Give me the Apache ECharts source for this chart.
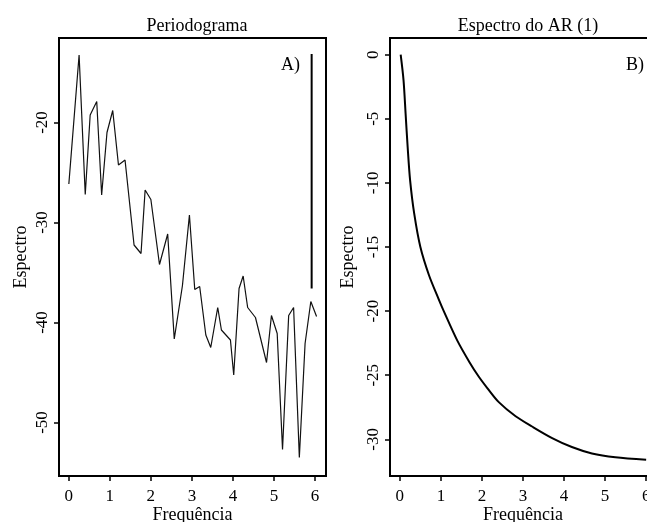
<!DOCTYPE html>
<html>
<head>
<meta charset="utf-8">
<script src="https://cdn.jsdelivr.net/npm/echarts@6/dist/echarts.min.js"></script>
<style>
  html, body { margin: 0; padding: 0; background: #fff; }
  #chart { width: 647px; height: 522px; }
</style>
</head>
<body>
<div id="chart"></div>
<script>
// periodograma (painel A)
const freqPgram = [0, 0.25, 0.40, 0.52, 0.68, 0.80, 0.93, 1.07, 1.21, 1.37, 1.59, 1.76, 1.86, 2.00,
  2.21, 2.41, 2.57, 2.77, 2.94, 3.07, 3.19, 3.34, 3.46, 3.63, 3.72, 3.94, 4.02, 4.15, 4.25, 4.36,
  4.55, 4.82, 4.94, 5.08, 5.21, 5.36, 5.48, 5.62, 5.76, 5.90, 6.04];
const specPgram = [-26.15, -13.25, -27.2, -19.25, -17.9, -27.25, -21.0, -18.8, -24.25, -23.75, -32.25, -33.1, -26.75, -27.7,
  -34.2, -31.15, -41.65, -36.3, -29.25, -36.7, -36.4, -41.25, -42.5, -38.5, -40.75, -41.75, -45.25, -36.6, -35.35, -38.5,
  -39.5, -44.0, -39.3, -41.1, -52.7, -39.3, -38.5, -53.5, -42.1, -37.9, -39.4];
// barra de intervalo de confiança
const ciFreq = [5.92, 5.92];
const ciSpec = [-13.15, -36.6];

// espectro do AR(1) (painel B)
const freqAr = [0.02, 0.09, 0.14, 0.19, 0.25, 0.35, 0.50, 0.71, 0.95, 1.07, 1.40, 1.70, 1.92, 2.13,
  2.41, 2.82, 3.22, 3.71, 4.19, 4.68, 5.25, 6.00];
const specAr = [0, -2.0, -4.6, -7.2, -9.8, -12.4, -15.0, -17.2, -19.1, -20.0, -22.3, -24.0, -25.1, -26.0,
  -27.1, -28.2, -29.0, -29.9, -30.6, -31.1, -31.4, -31.6];

const xTicks = [0, 1, 2, 3, 4, 5, 6];
const yTicksA = [-20, -30, -40, -50];
const yTicksB = [0, -5, -10, -15, -20, -25, -30];

const FONT = 'Liberation Serif';
const zip = (a, b) => a.map((v, i) => [v, b[i]]);

function xAxisOf(idx, min, max) {
  return {
    type: 'value', gridIndex: idx, min: min, max: max,
    name: 'Frequência', nameLocation: 'middle', nameGap: 30, nameMoveOverlap: false,
    nameTextStyle: { fontFamily: FONT, fontSize: 18, color: '#000' },
    splitLine: { show: false },
    axisLine: { show: false, onZero: false },
    axisTick: { show: true, length: 5, customValues: xTicks, lineStyle: { color: '#000', width: 1.5 } },
    axisLabel: { customValues: xTicks, margin: 12, fontFamily: FONT, fontSize: 17, color: '#000' }
  };
}

function yAxisOf(idx, min, max, ticks, gap) {
  return {
    type: 'value', gridIndex: idx, min: min, max: max,
    name: 'Espectro', nameLocation: 'middle', nameGap: gap, nameRotate: 90, nameMoveOverlap: false,
    nameTextStyle: { fontFamily: FONT, fontSize: 18, color: '#000' },
    splitLine: { show: false },
    axisLine: { show: false, onZero: false },
    axisTick: { show: true, length: 5, customValues: ticks, lineStyle: { color: '#000', width: 1.5 } },
    axisLabel: { customValues: ticks, rotate: 90, margin: 8, fontFamily: FONT, fontSize: 17, color: '#000' }
  };
}

const chart = echarts.init(document.getElementById('chart'), null, { renderer: 'canvas' });
chart.setOption({
  animation: false,
  backgroundColor: '#fff',
  title: [
    { text: 'Periodograma', left: 192, top: 12, textAlign: 'center',
      textStyle: { fontFamily: FONT, fontSize: 18, fontWeight: 'normal', color: '#000' } },
    { text: 'Espectro do AR (1)', left: 523, top: 12, textAlign: 'center',
      textStyle: { fontFamily: FONT, fontSize: 18, fontWeight: 'normal', color: '#000' } }
  ],
  grid: [
    { left: 59, top: 38, width: 267, height: 438, outerBoundsMode: 'none', containLabel: false,
      show: true, borderColor: '#000', borderWidth: 2, backgroundColor: 'transparent' },
    { left: 390, top: 38, width: 266, height: 438, outerBoundsMode: 'none', containLabel: false,
      show: true, borderColor: '#000', borderWidth: 2, backgroundColor: 'transparent' }
  ],
  xAxis: [xAxisOf(0, -0.24, 6.27), xAxisOf(1, -0.24, 6.24)],
  yAxis: [yAxisOf(0, -55.35, -11.55, yTicksA, 29), yAxisOf(1, -32.86, 1.3, yTicksB, 33)],
  graphic: [
    { type: 'text', left: 281, top: 56, style: { text: 'A)', font: '18px "Liberation Serif"', fill: '#000' } },
    { type: 'text', left: 626, top: 56, style: { text: 'B)', font: '18px "Liberation Serif"', fill: '#000' } }
  ],
  series: [
    { type: 'line', xAxisIndex: 0, yAxisIndex: 0, data: zip(freqPgram, specPgram), showSymbol: false,
      lineStyle: { color: '#111', width: 1.2 } },
    { type: 'line', xAxisIndex: 0, yAxisIndex: 0, data: zip(ciFreq, ciSpec), showSymbol: false,
      lineStyle: { color: '#000', width: 2 } },
    { type: 'line', xAxisIndex: 1, yAxisIndex: 1, data: zip(freqAr, specAr), showSymbol: false,
      smooth: 0.3, lineStyle: { color: '#000', width: 2 } }
  ]
});
</script>
</body>
</html>
